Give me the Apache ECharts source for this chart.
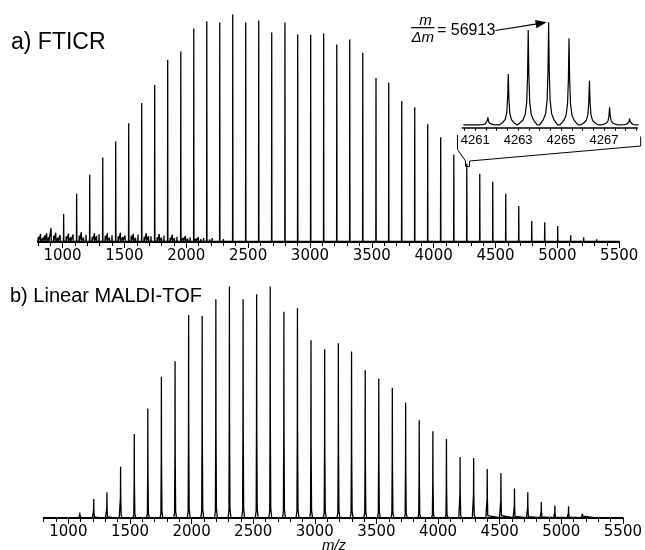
<!DOCTYPE html>
<html>
<head>
<meta charset="utf-8">
<script src="https://cdn.jsdelivr.net/npm/echarts@6/dist/echarts.min.js"></script>
<style>html,body{margin:0;padding:0;background:#fff}#c{width:645px;height:550px}</style>
</head>
<body>
<div id="c"></div>
<script>
// ---------- data ----------
// a) FTICR : main peak series (m/z, relative intensity %)
const topPeakMz = [907,1009,1114,1220,1325,1430,1535,1640,1745,1850,1956,2061,2166,2271,2376,2481,2586,2691,2798,2901,3006,3111,3217,3322,3427,3534,3637,3742,3847,3952,4057,4163,4268,4373,4478,4583,4688,4793,4898,5003,5108,5213,5318,5426];
const topPeakInt = [5.8,12,20.9,29.3,36.9,44,52,60.9,68.9,80,83.6,93.8,96.9,96.4,100,96.4,97.3,92,96.4,91.1,91,91.6,86.7,88.9,83.1,72,69.8,61.8,59.1,51.6,45.8,38.2,34.2,29.8,26.2,20.9,15.6,8.9,8.4,6.7,2.7,1.8,0.9,0.4];
// a) FTICR : small side peaks / noise
const topNoiseMz = [805,822,840,856,872,888,928,945,962,980,1030,1048,1066,1085,1135,1152,1170,1190,1240,1258,1275,1295,1345,1362,1380,1400,1450,1468,1486,1505,1555,1572,1590,1610,1660,1677,1695,1715,1765,1782,1800,1820,1870,1887,1905,1925,1975,1993,2012,2032,2080,2098,2118,2140,2190,2210,2245,2300,2330,2400,2430,2510,2540,2610,2650,2720,2760,2820,2860,2930,2960,3040,3070,3140,3250,3350,3460,3570,3680,3780,3890,3990,4100,4200,4310,4410,4520,4620,4730,4840,4950,5060,5160,5270,5370,5460];
const topNoiseInt = [2.0,3.2,1.5,2.6,3.5,1.8,2.4,3.8,1.6,2.8,2.2,3.4,1.8,3.0,2.6,4.0,1.7,2.9,2.0,3.6,2.4,3.2,2.4,3.5,1.6,2.7,2.2,3.8,1.9,2.6,2.6,3.3,1.5,3.0,2.0,3.6,2.3,2.2,1.8,3.2,1.6,2.6,1.6,2.9,1.4,2.0,1.5,2.4,1.2,1.8,1.2,1.9,1.0,1.4,0.9,1.5,0.8,1.0,0.7,0.8,0.6,0.7,0.6,0.8,0.6,0.7,0.5,0.6,0.5,0.7,0.5,0.6,0.5,0.6,0.5,0.6,0.5,0.6,0.5,0.5,0.5,0.4,0.5,0.4,0.4,0.4,0.4,0.3,0.4,0.3,0.3,0.3,0.3,0.5,0.6,0.3];
// inset: isotope cluster around m/z 4264
const insetMz = [4261.59,4262.54,4263.47,4264.42,4265.37,4266.32,4267.26,4268.19];
const insetInt = [7.3,48.3,90.1,97.4,82.2,42.0,16.8,5.9];
// b) Linear MALDI-TOF
const botPeakMz = [1093,1206,1313,1424,1535,1645,1755,1866,1976,2086,2197,2307,2418,2528,2638,2749,2859,2969,3080,3191,3298,3409,3519,3629,3737,3847,3958,4068,4179,4289,4399,4510,4620,4728,4838,4948,5059,5172,5280,5393];
const botPeakInt = [2.2,8,10.9,22,36.2,47.2,60.9,67.7,87.7,87.2,94.5,100,94.5,96.7,100,89.1,90.6,76.7,72.8,75.4,71.9,63.8,60.1,56.2,49.7,42.1,37.3,34,26.2,25.8,21,19.3,12.6,10.9,6.8,5.2,4.9,1.5,0.7,0.4];
const botNoiseMz = [870,930,985,1040,1150,1260,1370];
const botNoiseInt = [0.4,0.5,0.8,0.6,0.5,0.6,0.5];
// tick labels
const mainTickLabels = [1000,1500,2000,2500,3000,3500,4000,4500,5000,5500];
const insetTickLabels = [4261,4263,4265,4267];
const resolutionLabel = '= 56913';

// ---------- build ----------
function spikes(mzs, ints, offs, fracs, base, start, end){
  const list = [];
  for (let i=0;i<mzs.length;i++) list.push([mzs[i], ints[i]]);
  list.sort((a,b)=>a[0]-b[0]);
  const out = [[start, base]];
  list.forEach(([c,h])=>{
    for (let k=0;k<offs.length;k++) out.push([c+offs[k], base + h*fracs[k]]);
  });
  out.push([end, base]);
  return out;
}
const minorTicks = [];
for (let v=800; v<=5500; v+=100) minorTicks.push(v);
const insetTicks = [];
for (let v=4260.5; v<=4268.5; v+=0.5) insetTicks.push(v);

const topData = spikes(topPeakMz.concat(topNoiseMz), topPeakInt.concat(topNoiseInt),
  [-1.6,0,1.6],[0,1,0],0.3,800,5500);
const botData = spikes(botPeakMz.concat(botNoiseMz), botPeakInt.concat(botNoiseInt),
  [-11,-4,-1.2,0,1.2,4.5,12],[0,0.03,0.4,1,0.4,0.04,0],0.2,800,5500);
const insetData = spikes(insetMz, insetInt,
  [-0.42,-0.25,-0.14,-0.07,-0.03,0,0.03,0.07,0.14,0.25,0.42],
  [0,0.05,0.11,0.24,0.52,1,0.52,0.24,0.11,0.05,0],2.6,4260.45,4268.5);

const tickFont = 'DejaVu Sans';
const plain = v => String(v);
function mainAxis(grid){
  return {type:'value', gridIndex:grid, min:800, max:5500, position:'bottom',
    axisLine:{show:true, onZero:false, lineStyle:{color:'#000', width:2}},
    axisTick:{show:true, inside:false, length:4, customValues:minorTicks, lineStyle:{color:'#000', width:1}},
    axisLabel:{show:true, customValues:mainTickLabels, formatter:plain, margin:7, color:'#000', fontSize:15, fontFamily:tickFont},
    splitLine:{show:false}};
}
function majorAxis(grid){
  return {type:'value', gridIndex:grid, min:800, max:5500, position:'bottom',
    axisLine:{show:false, onZero:false},
    axisTick:{show:true, length:6, customValues:mainTickLabels, lineStyle:{color:'#000', width:1}},
    axisLabel:{show:false}, splitLine:{show:false}};
}
const hiddenY = g => ({type:'value', gridIndex:g, min:0, max:100, show:false, splitLine:{show:false}});

const option = {
  animation:false,
  backgroundColor:'#fff',
  grid:[
    {left:37.8, right:25.8, top:15, bottom:308},
    {left:43.7, right:19, top:287, bottom:32},
    {left:462.3, right:7.7, top:22.3, bottom:422.3}
  ],
  xAxis:[
    mainAxis(0), majorAxis(0), mainAxis(1), majorAxis(1),
    {type:'value', gridIndex:2, min:4260.4, max:4268.55, position:'bottom',
      axisLine:{show:true, onZero:false, lineStyle:{color:'#000', width:1.5}},
      axisTick:{show:true, length:3, customValues:insetTicks, lineStyle:{color:'#000', width:1}},
      axisLabel:{show:true, customValues:insetTickLabels, formatter:plain, margin:6, color:'#000', fontSize:13, fontFamily:'Liberation Sans'},
      splitLine:{show:false}}
  ],
  yAxis:[hiddenY(0), hiddenY(1), hiddenY(2)],
  series:[
    {type:'line', xAxisIndex:0, yAxisIndex:0, data:topData, showSymbol:false, silent:true,
      lineStyle:{color:'#000', width:1.3}, z:3},
    {type:'line', xAxisIndex:2, yAxisIndex:1, data:botData, showSymbol:false, silent:true,
      lineStyle:{color:'#000', width:1.3}, z:3},
    {type:'line', xAxisIndex:4, yAxisIndex:2, data:insetData, showSymbol:false, silent:true,
      lineStyle:{color:'#000', width:1.2}, z:3}
  ],
  graphic:[
    {type:'text', x:11, y:42.5, style:{text:'a) FTICR', font:'23px "Liberation Sans"', fill:'#000', textAlign:'left', align:'left', textVerticalAlign:'middle', verticalAlign:'middle'}},
    {type:'text', x:10, y:296.5, style:{text:'b) Linear MALDI-TOF', font:'20px "Liberation Sans"', fill:'#000', textAlign:'left', align:'left', textVerticalAlign:'middle', verticalAlign:'middle'}},
    {type:'text', x:334, y:546, style:{text:'m/z', font:'italic 15px "Liberation Sans"', fill:'#000', textAlign:'center', align:'center', textVerticalAlign:'middle', verticalAlign:'middle'}},
    // resolution annotation
    {type:'text', x:425.5, y:20.5, style:{text:'m', font:'italic 15px "Liberation Sans"', fill:'#000', textAlign:'center', align:'center', textVerticalAlign:'middle', verticalAlign:'middle'}},
    {type:'line', shape:{x1:411, y1:27.7, x2:434.5, y2:27.7}, style:{stroke:'#000', lineWidth:1.2}},
    {type:'text', x:422.7, y:37.5, style:{text:'Δm', font:'italic 15px "Liberation Sans"', fill:'#000', textAlign:'center', align:'center', textVerticalAlign:'middle', verticalAlign:'middle'}},
    {type:'text', x:437, y:31, style:{text:resolutionLabel, font:'16px "Liberation Sans"', fill:'#000', textAlign:'left', align:'left', textVerticalAlign:'middle', verticalAlign:'middle'}},
    {type:'line', shape:{x1:495.5, y1:30.5, x2:537, y2:23.9}, style:{stroke:'#000', lineWidth:1.2}},
    {type:'polygon', shape:{points:[[546.7,22.3],[536.4,28.2],[535.1,19.9]]}, style:{fill:'#000'}},
    // bracket linking inset to the peak
    {type:'polyline', shape:{points:[[457.5,135],[457.5,149.5],[465.5,161],[465.5,166.5],[469.5,166.5],[469.5,161],[640.7,146],[640.7,136.5]]},
      style:{stroke:'#000', lineWidth:1, fill:null}}
  ]
};
echarts.init(document.getElementById('c'), null, {renderer:'canvas'}).setOption(option);
</script>
</body>
</html>
